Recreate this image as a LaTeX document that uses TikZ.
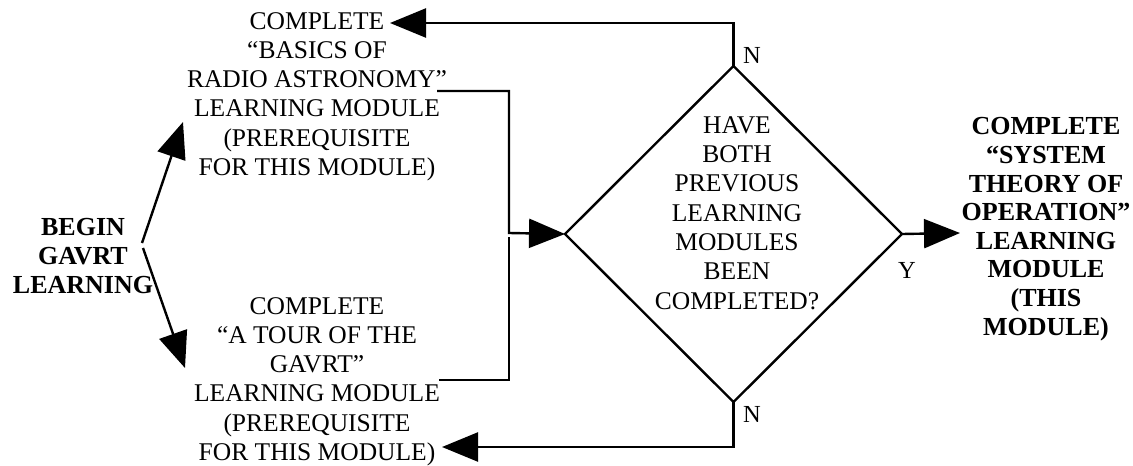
\documentclass[tikz,border=0pt]{standalone}
\usepackage{fontspec}
\setmainfont{Liberation Serif}
\usetikzlibrary{arrows.meta,shapes.geometric}
\begin{document}
\begin{tikzpicture}[x=1pt,y=-1pt,
  txt/.style={align=center, inner sep=0pt, font=\fontsize{25.5}{29.3}\selectfont},
  btxt/.style={align=center, inner sep=0pt, font=\fontsize{26}{28.6}\selectfont\bfseries},
  lbl/.style={inner sep=0pt, font=\fontsize{24.5}{29}\selectfont, anchor=base west},
  ln/.style={line width=2.4pt},
  arr/.style={ln, -{Triangle[length=36pt,width=29pt]}}]
\useasboundingbox (0,0) rectangle (1133,466);

\node[btxt, anchor=base] (begin) at (83,293) {BEGIN\\GAVRT\\LEARNING};
\node[txt, anchor=base] (m1) at (317,175.5) {COMPLETE\\“BASICS OF\\RADIO ASTRONOMY”\\LEARNING MODULE\\(PREREQUISITE\\FOR THIS MODULE)};
\node[txt, anchor=base] (m2) at (317,460.5) {COMPLETE\\“A TOUR OF THE\\GAVRT”\\LEARNING MODULE\\(PREREQUISITE\\FOR THIS MODULE)};
\node[diamond, draw, ln, minimum width=337pt, minimum height=336pt, inner sep=0pt, outer sep=0pt] (dec) at (733.5,234) {};
\node[txt, anchor=base] (q) at (737,309) {HAVE\\BOTH\\PREVIOUS\\LEARNING\\MODULES\\BEEN\\COMPLETED?};
\node[btxt, anchor=base] (m3) at (1046,335) {COMPLETE\\“SYSTEM\\THEORY OF\\OPERATION”\\LEARNING\\MODULE\\(THIS\\MODULE)};

\node[lbl] (n1) at (743,63) {N};
\node[lbl] (n2) at (743,422) {N};
\node[lbl] (y1) at (898,278) {Y};

\coordinate (b1) at (142,243);
\coordinate (b2) at (143,248);
\coordinate (t1) at (183,122);
\coordinate (t2) at (185,368);
\coordinate (t3) at (390,23);
\coordinate (t4) at (442,447);
\coordinate (t5) at (960,233);
\coordinate (c1) at (437,91);
\coordinate (c2) at (439,380);
\coordinate (j) at (509,233);
\coordinate (j2) at (509,237);

\draw[arr] (b1) -- (t1);
\draw[arr] (b2) -- (t2);
\draw[arr] (c1) -| (j) -- (dec.west);
\draw[ln] (c2) -| (j2);
\draw[arr] (dec.north) -- (dec.north |- t3) -- (t3);
\draw[arr] (dec.south) -- (dec.south |- t4) -- (t4);
\draw[arr] (dec.east) -- (t5);
\end{tikzpicture}
\end{document}
